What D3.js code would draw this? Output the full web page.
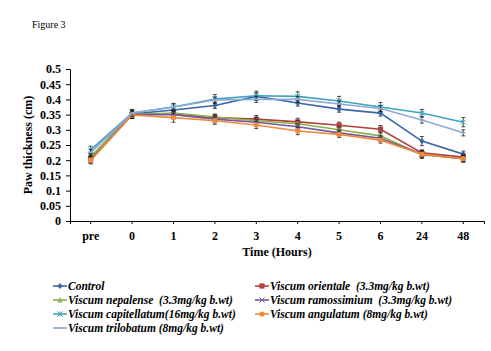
<!DOCTYPE html>
<html>
<head>
<meta charset="utf-8">
<script src="https://cdn.jsdelivr.net/npm/d3@7"></script>
<style>
  body { margin: 0; background: #fff; }
  svg text { font-family: "Liberation Serif", "Times New Roman", serif; }
</style>
</head>
<body>
<div id="chart"></div>
<script>
const times = ["pre", "0", "1", "2", "3", "4", "5", "6", "24", "48"]
const yTicks = [0, 0.05, 0.1, 0.15, 0.2, 0.25, 0.3, 0.35, 0.4, 0.45, 0.5]

const seriesNames = [
  "Control",
  "Viscum orientale  (3.3mg/kg b.wt)",
  "Viscum nepalense  (3.3mg/kg b.wt)",
  "Viscum ramossimium  (3.3mg/kg b.wt)",
  "Viscum capitellatum(16mg/kg b.wt)",
  "Viscum angulatum (8mg/kg b.wt)",
  "Viscum trilobatum (8mg/kg b.wt)"
]
const seriesColors = ["#3A67A8", "#B0413E", "#8DB04C", "#7457A0", "#3FA2BE", "#EE8A3C", "#8FA8D6"]
const seriesMarkers = ["diamond", "square", "triangle", "cross", "star", "circle", "plus"]

const control      = [0.210, 0.352, 0.365, 0.380, 0.410, 0.388, 0.368, 0.355, 0.263, 0.220]
const orientale    = [0.205, 0.350, 0.352, 0.340, 0.335, 0.326, 0.315, 0.302, 0.224, 0.210]
const nepalense    = [0.210, 0.350, 0.355, 0.342, 0.330, 0.320, 0.300, 0.280, 0.218, 0.205]
const ramossimium  = [0.200, 0.350, 0.350, 0.335, 0.325, 0.310, 0.290, 0.272, 0.220, 0.205]
const capitellatum = [0.234, 0.355, 0.375, 0.401, 0.412, 0.410, 0.395, 0.375, 0.355, 0.325]
const angulatum    = [0.200, 0.349, 0.340, 0.330, 0.316, 0.296, 0.285, 0.266, 0.220, 0.205]
const trilobatum   = [0.225, 0.355, 0.375, 0.398, 0.400, 0.400, 0.385, 0.370, 0.332, 0.290]

const controlErr      = [0.010, 0.015, 0.010, 0.010, 0.012, 0.010, 0.010, 0.010, 0.015, 0.010]
const orientaleErr    = [0.010, 0.012, 0.010, 0.010, 0.012, 0.012, 0.010, 0.012, 0.010, 0.010]
const nepalenseErr    = [0.010, 0.012, 0.010, 0.010, 0.010, 0.010, 0.010, 0.010, 0.012, 0.010]
const ramossimiumErr  = [0.010, 0.012, 0.010, 0.012, 0.010, 0.010, 0.010, 0.010, 0.010, 0.012]
const capitellatumErr = [0.012, 0.010, 0.012, 0.015, 0.015, 0.015, 0.015, 0.015, 0.012, 0.015]
const angulatumErr    = [0.012, 0.010, 0.015, 0.012, 0.012, 0.012, 0.010, 0.010, 0.012, 0.010]
const trilobatumErr   = [0.010, 0.010, 0.010, 0.010, 0.010, 0.010, 0.010, 0.010, 0.010, 0.010]

const seriesValues = [control, orientale, nepalense, ramossimium, capitellatum, angulatum, trilobatum]
const seriesErrors = [controlErr, orientaleErr, nepalenseErr, ramossimiumErr, capitellatumErr, angulatumErr, trilobatumErr]

const width = 491
const height = 351
const margin = { top: 69, left: 70, right: 7, bottom: 130 }

const svg = d3.select("#chart").append("svg")
  .attr("width", width)
  .attr("height", height)

svg.append("text")
  .attr("x", 32).attr("y", 28)
  .style("font-size", "10px")
  .text("Figure 3")

const x = d3.scaleBand().domain(times).range([margin.left, width - margin.right]).padding(0)
const y = d3.scaleLinear().domain([0, 0.5]).range([height - margin.bottom, margin.top])

// axes
const yAxis = svg.append("g")
  .attr("transform", `translate(${margin.left},0)`)
  .call(d3.axisLeft(y).tickValues(yTicks).tickFormat(d => d3.format("")(+d.toFixed(2))).tickSize(4).tickPadding(5))
yAxis.selectAll("text").style("font-size", "12px").style("font-weight", "bold").attr("fill", "#000")
yAxis.selectAll("line, path").attr("stroke", "#000")

const xAxis = svg.append("g")
  .attr("transform", `translate(0,${y(0)})`)
  .call(d3.axisBottom(x).tickSize(3).tickPadding(7).tickSizeOuter(3))
xAxis.selectAll("text").style("font-size", "12px").style("font-weight", "bold").attr("fill", "#000")
xAxis.selectAll("line, path").attr("stroke", "#000")

svg.append("text")
  .attr("transform", `translate(32,${y(0.25)}) rotate(-90)`)
  .attr("text-anchor", "middle")
  .style("font-size", "12px").style("font-weight", "bold")
  .text("Paw  thickness (cm)")

svg.append("text")
  .attr("x", 277).attr("y", 256)
  .attr("text-anchor", "middle")
  .style("font-size", "12px").style("font-weight", "bold")
  .text("Time (Hours)")

function drawMarker(g, type, color, cx, cy) {
  const s = 2.6
  if (type === "diamond") {
    g.append("path").attr("d", `M${cx},${cy - s - 0.5}L${cx + s},${cy}L${cx},${cy + s + 0.5}L${cx - s},${cy}Z`).attr("fill", color)
  } else if (type === "square") {
    g.append("rect").attr("x", cx - s).attr("y", cy - s).attr("width", 2 * s).attr("height", 2 * s).attr("fill", color)
  } else if (type === "triangle") {
    g.append("path").attr("d", `M${cx},${cy - s - 0.5}L${cx + s},${cy + s}L${cx - s},${cy + s}Z`).attr("fill", color)
  } else if (type === "circle") {
    g.append("circle").attr("cx", cx).attr("cy", cy).attr("r", s).attr("fill", color)
  } else if (type === "cross") {
    g.append("path").attr("d", `M${cx - s},${cy - s}L${cx + s},${cy + s}M${cx - s},${cy + s}L${cx + s},${cy - s}`).attr("stroke", color).attr("stroke-width", 1)
  } else if (type === "star") {
    g.append("path").attr("d", `M${cx - s},${cy - s}L${cx + s},${cy + s}M${cx - s},${cy + s}L${cx + s},${cy - s}M${cx},${cy - s}L${cx},${cy + s}`).attr("stroke", color).attr("stroke-width", 1)
  } else if (type === "plus") {
    g.append("path").attr("d", `M${cx - s},${cy}L${cx + s},${cy}`).attr("stroke", color).attr("stroke-width", 1.2)
  }
}

const line = d3.line().x((d, i) => x(times[i]) + x.bandwidth() / 2).y(d => y(d))
const plot = svg.append("g")

seriesValues.forEach((vals, si) => {
  const g = plot.append("g")
  // error bars
  vals.forEach((v, i) => {
    const cx = x(times[i]) + x.bandwidth() / 2
    const e = seriesErrors[si][i]
    g.append("path")
      .attr("d", `M${cx},${y(v + e)}L${cx},${y(v - e)}M${cx - 2},${y(v + e)}L${cx + 2},${y(v + e)}M${cx - 2},${y(v - e)}L${cx + 2},${y(v - e)}`)
      .attr("stroke", "#222").attr("stroke-width", 0.8).attr("fill", "none")
  })
  g.append("path")
    .datum(vals)
    .attr("d", line)
    .attr("fill", "none")
    .attr("stroke", seriesColors[si])
    .attr("stroke-width", 1.6)
  vals.forEach((v, i) => {
    drawMarker(g, seriesMarkers[si], seriesColors[si], x(times[i]) + x.bandwidth() / 2, y(v))
  })
})

// legend
const legendCols = [53, 255]
const legendRows = [286, 300, 314, 328]
seriesNames.forEach((name, i) => {
  const lx = legendCols[i % 2]
  const ly = legendRows[Math.floor(i / 2)]
  const g = svg.append("g")
  g.append("line").attr("x1", lx).attr("x2", lx + 14).attr("y1", ly).attr("y2", ly)
    .attr("stroke", seriesColors[i]).attr("stroke-width", 1.6)
  drawMarker(g, seriesMarkers[i], seriesColors[i], lx + 7, ly)
  g.append("text")
    .attr("x", lx + 15).attr("y", ly + 4)
    .style("font-size", "11.5px").style("font-weight", "bold").style("font-style", "italic")
    .style("white-space", "pre")
    .attr("xml:space", "preserve")
    .text(name)
})
</script>
</body>
</html>
